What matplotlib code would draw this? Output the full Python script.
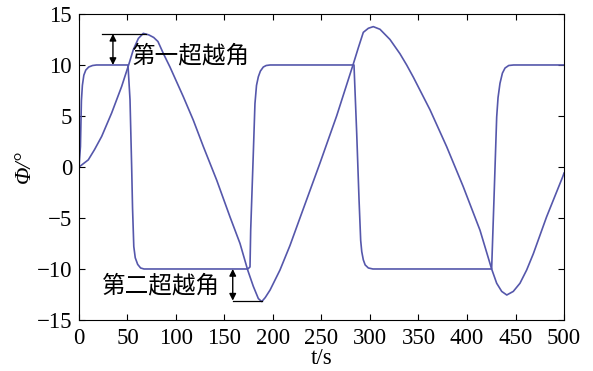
import matplotlib
matplotlib.use("Agg")
import matplotlib.pyplot as plt

# fast response (step-like)
fast_t = [0, 1.5, 2.5, 3.5, 5, 7, 10, 14, 18,
          50.5, 52.6, 54.3, 55.2, 56.5, 58, 60.5, 63.5, 67,
          174, 176.3, 177, 179.7, 181.4, 183, 184.9, 187, 190, 193, 197,
          283.5, 286.3, 288.7, 290.4, 291.5, 293.1, 295, 298.3, 303,
          425.4, 427.8, 430.6, 432, 434, 436.5, 439.2, 443, 448, 500]
fast_v = [0, 2, 6.5, 8, 9, 9.5, 9.8, 9.95, 10,
          10, 6.6, 0, -4, -7.8, -8.9, -9.55, -9.9, -10,
          -10, -9.8, -6.2, 1.3, 6.2, 8.0, 8.85, 9.4, 9.8, 9.95, 10,
          10, 3.3, -3.2, -7.2, -8.3, -9.1, -9.6, -9.9, -10,
          -10, -3.2, 4.9, 6.8, 8.2, 9.2, 9.7, 9.95, 10, 10]

# slow response (triangle-like)
slow_t = [0, 2.8, 9.6, 16, 23.4, 33.7, 44, 51.5, 56, 61.2, 66.3,
          72, 77, 81.4, 87.6, 93.8, 107.5, 117.8, 128.2, 142, 155.7, 166, 173.9,
          179.7, 184.9, 188.4, 192, 197, 207.2, 217.5, 227.8, 248.5, 265.6, 282.8,
          288, 293.1, 298.3, 303.4, 310.3, 320.6, 330.9, 337.8, 344.7, 361.9, 379, 396, 413.4, 425.4,
          430.6, 435.8, 441, 447.7, 454.6, 461.5, 468.4, 482, 498.7, 500]
slow_v = [0, 0.2, 0.7, 1.7, 3.0, 5.3, 7.9, 10.1, 11.5, 12.6, 13.1,
          12.95, 12.7, 12.3, 11.0, 9.8, 6.9, 4.6, 2.0, -1.3, -4.9, -7.5, -10.1,
          -11.7, -12.9, -13.2, -12.8, -12.06, -10.1, -7.7, -5.0, 0.4, 5.0, 10.1,
          11.7, 13.2, 13.6, 13.76, 13.5, 12.5, 11.1, 10.0, 8.8, 5.6, 2.0, -1.9, -6.2, -10.0,
          -11.4, -12.2, -12.55, -12.2, -11.4, -10.1, -8.5, -4.9, -0.95, -0.6]

xticks = [0, 50, 100, 150, 200, 250, 300, 350, 400, 450, 500]
yticks = [-15, -10, -5, 0, 5, 10, 15]

serif = 'Liberation Serif'
cjk = ['Noto Sans CJK SC', 'DejaVu Sans']
blue = '#5557ab'

fig = plt.figure(figsize=(5.93, 3.71), dpi=100)
ax = fig.add_axes([0.1332, 0.1375, 0.8179, 0.8248])

ax.plot(fast_t, fast_v, color=blue, lw=1.2)
ax.plot(slow_t, slow_v, color=blue, lw=1.2)

ax.set_xlim(0, 500)
ax.set_ylim(-15, 15)
ax.set_xticks(xticks)
ax.set_yticks(yticks)
ax.set_xticklabels([str(x) for x in xticks], family=serif, fontsize=16.5)
ax.set_yticklabels([str(y).replace('-', '\u2212') for y in yticks], family=serif, fontsize=16.5)
ax.tick_params(direction='in', length=4, width=0.8, top=True, right=True, pad=5)
ax.tick_params(axis='x', pad=6)
for s in ax.spines.values():
    s.set_linewidth(0.8)

ax.set_xlabel('t/s', family=serif, fontsize=16.5, labelpad=-1)
ax.set_ylabel('Φ/°', family=serif, style='italic', fontsize=16.5, labelpad=1)

# first overshoot
ax.plot([23.7, 69], [13.05, 13.05], color='black', lw=0.9)
ax.annotate('', xy=(35, 13.05), xytext=(35, 10),
            arrowprops=dict(arrowstyle='<|-|>', color='black', lw=1.0, mutation_scale=10,
                            shrinkA=0, shrinkB=0))
ax.text(54.6, 10.9, '第一超越角', family=cjk, fontsize=17, va='center', ha='left')

# second overshoot
ax.plot([158.5, 189], [-13.1, -13.1], color='black', lw=0.9)
ax.annotate('', xy=(158.5, -13.1), xytext=(158.5, -10),
            arrowprops=dict(arrowstyle='<|-|>', color='black', lw=1.0, mutation_scale=10,
                            shrinkA=0, shrinkB=0))
ax.text(23.7, -11.7, '第二超越角', family=cjk, fontsize=17, va='center', ha='left')

fig.savefig('out.png', dpi=100)
